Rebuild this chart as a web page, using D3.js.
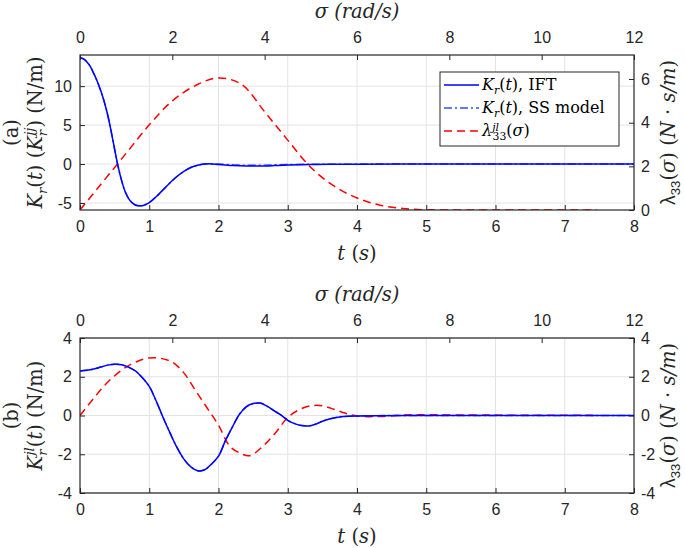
<!DOCTYPE html>
<html><head><meta charset="utf-8">
<script src="https://cdn.jsdelivr.net/npm/d3@7"></script>
<style>body{margin:0;background:#fff}svg{display:block}</style>
</head><body>
<svg id="c" width="685" height="548"></svg>
<script>
// ---------- DATA ----------
// Panel (a): K_r(t), IFT
const tA = [0,0.05,0.1,0.15,0.2,0.25,0.3,0.35,0.4,0.45,0.5,0.55,0.6,0.65,0.7,0.75,0.8,0.85,0.9,0.95,1.0,1.1,1.2,1.3,1.4,1.5,1.6,1.7,1.8,1.9,2.0,2.2,2.4,2.6,2.8,3.0,3.3,3.6,4.0,5.0,6.0,7.0,8.0];
const kA_ift = [13.6,13.5,13.1,12.5,11.6,10.6,9.4,8.0,6.3,4.2,1.9,-0.3,-2.1,-3.5,-4.4,-4.95,-5.25,-5.35,-5.35,-5.2,-4.95,-4.2,-3.3,-2.4,-1.6,-0.95,-0.45,-0.15,0.0,0.02,-0.05,-0.18,-0.25,-0.25,-0.2,-0.13,-0.07,-0.04,-0.02,0,0,0,0];
// Panel (a): K_r(t), SS model
const kA_ss = [13.6,13.5,13.1,12.5,11.6,10.6,9.4,8.0,6.3,4.2,1.9,-0.3,-2.1,-3.5,-4.4,-4.95,-5.25,-5.35,-5.35,-5.2,-4.95,-4.2,-3.3,-2.4,-1.6,-0.95,-0.45,-0.15,0.0,0.03,0.0,-0.1,-0.15,-0.15,-0.1,-0.06,-0.03,-0.02,-0.01,0,0,0,0];
// Panel (a): lambda_33(sigma)
const sA = [0,0.25,0.5,1.0,1.5,2.0,2.5,3.0,3.5,4.0,4.5,5.0,5.5,6.0,6.5,7.0,7.5,8.0,9.0,10.0,11.2];
const lamA = [0,0.65,1.3,2.6,3.9,5.0,5.7,6.05,5.75,4.5,3.2,1.95,1.1,0.55,0.22,0.07,0.01,0,0,0,0];

// Panel (b): K_r^{jl}(t), IFT
const tB = [0,0.1,0.2,0.3,0.4,0.5,0.6,0.7,0.8,0.9,1.0,1.1,1.2,1.3,1.4,1.5,1.6,1.7,1.8,1.9,2.0,2.1,2.2,2.3,2.4,2.5,2.6,2.7,2.8,2.9,3.0,3.1,3.2,3.3,3.4,3.5,3.6,3.7,3.8,4.0,5.0,6.0,7.0,8.0];
const kB_ift = [2.3,2.33,2.4,2.5,2.6,2.65,2.62,2.5,2.3,1.95,1.5,0.75,-0.1,-0.9,-1.65,-2.25,-2.65,-2.85,-2.8,-2.5,-2.1,-1.3,-0.6,0.05,0.45,0.62,0.64,0.48,0.25,0.03,-0.25,-0.42,-0.52,-0.54,-0.45,-0.3,-0.18,-0.1,-0.05,-0.02,0,0,0,0];
const kB_ss = [2.3,2.33,2.4,2.5,2.6,2.65,2.62,2.5,2.3,1.95,1.5,0.75,-0.1,-0.9,-1.65,-2.25,-2.65,-2.85,-2.8,-2.5,-2.1,-1.3,-0.6,0.05,0.45,0.62,0.64,0.48,0.25,0.03,-0.25,-0.42,-0.52,-0.54,-0.45,-0.3,-0.18,-0.1,-0.05,-0.02,0,0,0,0];
// Panel (b): lambda_33(sigma)
const sB = [0,0.25,0.5,0.75,1.0,1.25,1.5,1.75,2.0,2.25,2.5,2.75,3.0,3.25,3.5,3.65,3.75,4.0,4.25,4.5,4.75,5.0,5.25,5.5,5.75,6.0,6.5,7.0,7.5,8.0,9.0,10.0,11.0,11.2];
const lamB = [0,0.75,1.47,2.05,2.5,2.8,2.97,2.95,2.75,2.2,1.3,0.4,-0.5,-1.6,-1.98,-2.08,-2.0,-1.5,-0.85,-0.1,0.3,0.5,0.5,0.32,0.12,-0.03,-0.05,0.02,0.04,0.03,0.02,0.01,0.01,0];

// Tick labels
const tTicks = [0,1,2,3,4,5,6,7,8];
const sigmaTicks = [0,2,4,6,8,10,12];
const yTicksA = [-5,0,5,10];
const yRTicksA = [0,2,4,6];
const yTicksB = [-4,-2,0,2,4];
const yRTicksB = [-4,-2,0,2,4];
const legendLabels = ["IFT","SS model"];

// ---------- DRAW ----------
const svg = d3.select("#c");
const L = 80, R = 634;
const axCol = "#262626", gridCol = "#e3e3e3";
const tickFont = "'Liberation Sans', Arial, sans-serif";
const mathFont = "'DejaVu Serif', 'Liberation Serif', serif";
const LBL = 19.5;
const x = d3.scaleLinear([0,8],[L,R]);
const xs = d3.scaleLinear([0,12],[L,R]);

function addMath(text, parts, size, supK=0.42, subK=0.28){
  let cur = 0;
  parts.forEach(p=>{
    const off = p.sub ? size*subK : (p.sup ? -size*supK : 0);
    const ts = text.append("tspan").text(p.t).attr("dy", off-cur);
    cur = off;
    if(p.it) ts.attr("font-style","italic");
    if(p.sub||p.sup) ts.attr("font-size", size*0.68);
    if(p.dx) ts.attr("dx", p.dx);
    if(p.f) ts.attr("font-family", p.f);
  });
  return text;
}

function panel(cfg){
  const {top, bot, yL, yR, yT, yRT, id} = cfg;
  const g = svg.append("g");
  g.append("defs").append("clipPath").attr("id","clip"+id)
    .append("rect").attr("x",L).attr("y",top).attr("width",R-L).attr("height",bot-top);
  // grid
  g.append("g").selectAll("line").data(tTicks.slice(1,-1)).join("line")
    .attr("x1",d=>x(d)).attr("x2",d=>x(d)).attr("y1",top).attr("y2",bot)
    .attr("stroke",gridCol).attr("stroke-width",1);
  g.append("g").selectAll("line").data(yT).join("line")
    .attr("y1",d=>yL(d)).attr("y2",d=>yL(d)).attr("x1",L).attr("x2",R)
    .attr("stroke",gridCol).attr("stroke-width",1);
  const fmt = d=>String(d);
  const styleAx = s=>{ s.select(".domain").remove(); s.selectAll("line").attr("stroke",axCol);
    s.selectAll("text").attr("fill",axCol).attr("font-family",tickFont).attr("font-size",16); };
  g.append("g").attr("transform",`translate(0,${bot})`)
    .call(d3.axisBottom(x).tickValues(tTicks).tickFormat(fmt).tickSize(-5).tickPadding(11)).call(styleAx);
  g.append("g").attr("transform",`translate(0,${top})`)
    .call(d3.axisTop(xs).tickValues(sigmaTicks).tickFormat(fmt).tickSize(-5).tickPadding(12)).call(styleAx);
  g.append("g").attr("transform",`translate(${L},0)`)
    .call(d3.axisLeft(yL).tickValues(yT).tickFormat(fmt).tickSize(-5).tickPadding(8)).call(styleAx);
  g.append("g").attr("transform",`translate(${R},0)`)
    .call(d3.axisRight(yR).tickValues(yRT).tickFormat(fmt).tickSize(-5).tickPadding(7)).call(styleAx);
  // curves
  const cg = g.append("g").attr("clip-path",`url(#clip${id})`);
  const lineT = d3.line().x(d=>x(d[0])).y(d=>yL(d[1])).curve(d3.curveCatmullRom);
  const lineS = d3.line().x(d=>xs(d[0])).y(d=>yR(d[1])).curve(d3.curveCatmullRom);
  cg.append("path").attr("d", lineS(d3.zip(cfg.s, cfg.lam))).attr("fill","none")
    .attr("stroke","#ff0000").attr("stroke-width",1.5).attr("stroke-dasharray","8,5");
  cg.append("path").attr("d", lineT(d3.zip(cfg.t, cfg.ss))).attr("fill","none")
    .attr("stroke","#3050ff").attr("stroke-width",1.5).attr("stroke-dasharray","8,3,2,3");
  cg.append("path").attr("d", lineT(d3.zip(cfg.t, cfg.ift))).attr("fill","none")
    .attr("stroke","#0000ff").attr("stroke-width",1.5);
  // box
  g.append("rect").attr("x",L).attr("y",top).attr("width",R-L).attr("height",bot-top)
    .attr("fill","none").attr("stroke",axCol).attr("stroke-width",1.2);
  // axis labels
  addMath(g.append("text").attr("x",(L+R)/2).attr("y",top-37).attr("text-anchor","middle")
    .attr("font-family",mathFont).attr("font-size",LBL).attr("fill",axCol),
    [{t:"σ",it:1},{t:" (rad/s)",it:1}],LBL);
  addMath(g.append("text").attr("x",(L+R)/2).attr("y",bot+50).attr("text-anchor","middle")
    .attr("font-family",mathFont).attr("font-size",LBL).attr("fill",axCol),
    [{t:"t",it:1},{t:" ("},{t:"s",it:1},{t:")"}],LBL);
  const yc = (top+bot)/2;
  g.append("text").attr("transform",`translate(18,${yc}) rotate(-90)`).attr("text-anchor","middle")
    .attr("font-family",mathFont).attr("font-size",LBL).attr("fill",axCol).text(cfg.tag);
  addMath(g.append("text").attr("transform",`translate(42,${yc}) rotate(-90)`).attr("text-anchor","middle")
    .attr("font-family",mathFont).attr("font-size",LBL).attr("fill",axCol), cfg.ylab, LBL);
  addMath(g.append("text").attr("transform",`translate(675,${yc}) rotate(-90)`).attr("text-anchor","middle")
    .attr("font-family",mathFont).attr("font-size",LBL).attr("fill",axCol),
    [{t:"λ",f:tickFont},{t:"33",sub:1,f:tickFont},{t:"("},{t:"σ",it:1},{t:")"},{t:" ("},{t:"N",it:1},{t:" · "},{t:"s/m",it:1},{t:")"}],LBL);
  return g;
}

const yLA = d3.scaleLinear([-5.9,14],[210,55]);
const yRA = d3.scaleLinear([0,7.1],[210,55]);
const yLB = d3.scaleLinear([-4,4],[493,338]);
const yRB = d3.scaleLinear([-4,4],[493,338]);

panel({id:"a", top:55, bot:210, yL:yLA, yR:yRA, yT:yTicksA, yRT:yRTicksA,
  t:tA, ift:kA_ift, ss:kA_ss, s:sA, lam:lamA, tag:"(a)",
  ylab:[{t:"K",it:1},{t:"r",it:1,sub:1},{t:"("},{t:"t",it:1},{t:") ("},{t:"K",it:1},{t:"r",it:1,sub:1},{t:"jj",it:1,sup:1,dx:-6},{t:") (N/m)"}]});
panel({id:"b", top:338, bot:493, yL:yLB, yR:yRB, yT:yTicksB, yRT:yRTicksB,
  t:tB, ift:kB_ift, ss:kB_ss, s:sB, lam:lamB, tag:"(b)",
  ylab:[{t:"K",it:1},{t:"r",it:1,sub:1},{t:"jl",it:1,sup:1,dx:-6},{t:"("},{t:"t",it:1},{t:") (N/m)"}]});

// legend
const lg = svg.append("g");
lg.append("rect").attr("x",440).attr("y",72).attr("width",179).attr("height",74)
  .attr("fill","#fff").attr("stroke",axCol).attr("stroke-width",1);
const rows = [
  {y:85, col:"#0000ff", dash:null, parts:[{t:"K",it:1},{t:"r",it:1,sub:1},{t:"("},{t:"t",it:1},{t:"), "+legendLabels[0]}]},
  {y:108, col:"#3050ff", dash:"8,3,2,3", parts:[{t:"K",it:1},{t:"r",it:1,sub:1},{t:"("},{t:"t",it:1},{t:"), "+legendLabels[1]}]},
  {y:131, col:"#ff0000", dash:"8,5", parts:[{t:"λ",it:1},{t:"jl",it:1,sup:1},{t:"33",sub:1,dx:-6.5},{t:"("},{t:"σ",it:1},{t:")"}]}
];
rows.forEach(r=>{
  lg.append("line").attr("x1",444).attr("x2",479).attr("y1",r.y).attr("y2",r.y)
    .attr("stroke",r.col).attr("stroke-width",1.5).attr("stroke-dasharray",r.dash);
  addMath(lg.append("text").attr("x",482).attr("y",r.y+5).attr("font-family",mathFont)
    .attr("font-size",16).attr("fill","#000"), r.parts, 16, 0.33, 0.22);
});
</script>
</body></html>
